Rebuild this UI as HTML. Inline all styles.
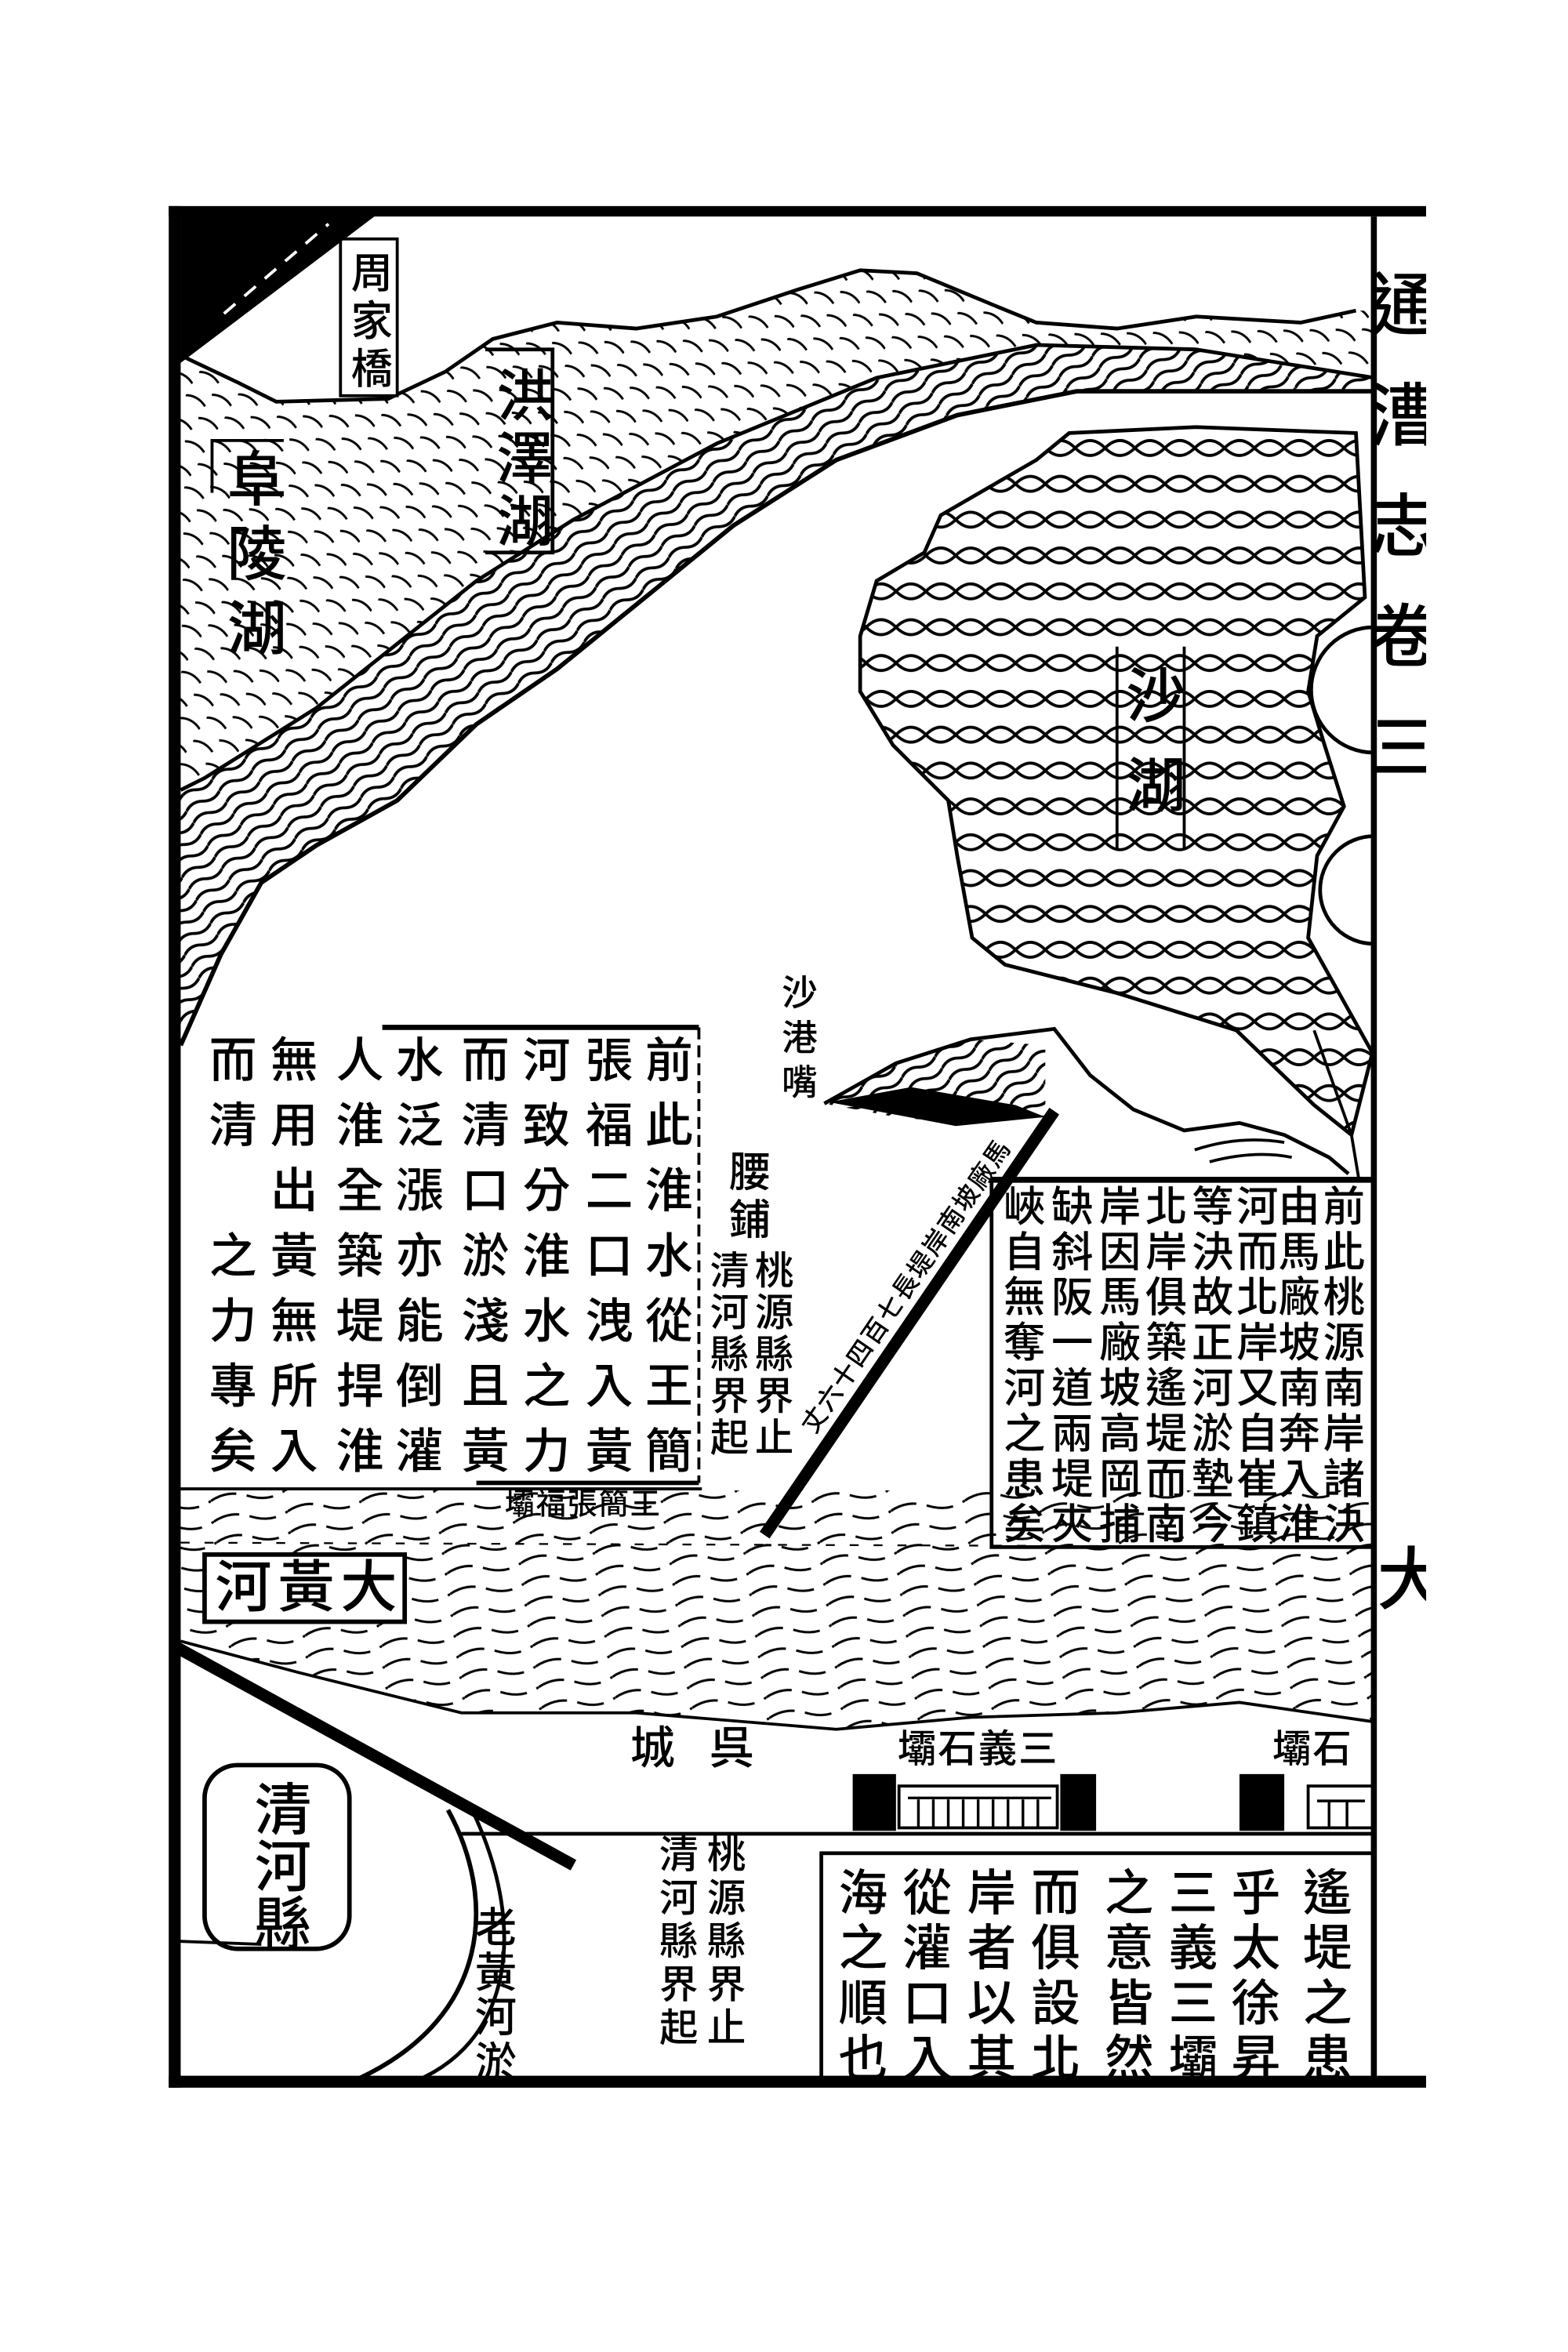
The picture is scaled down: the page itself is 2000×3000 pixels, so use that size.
<!DOCTYPE html>
<html><head><meta charset="utf-8">
<style>
html,body{margin:0;padding:0;background:#fff;width:2000px;height:3000px;overflow:hidden}
#c{position:absolute;left:0;top:0;width:1050px;height:1575px;transform:scale(1.9047619);transform-origin:0 0;background:#fff}
svg{position:absolute;left:0;top:0}
.v{position:absolute;writing-mode:vertical-rl;line-height:1;white-space:nowrap;font-family:"Liberation Sans","Noto Sans CJK TC",sans-serif;font-weight:500;color:#000}
.h{position:absolute;line-height:1;white-space:nowrap;font-family:"Liberation Sans","Noto Sans CJK TC",sans-serif;font-weight:500;color:#000}
</style></head><body>
<div id="c">
<svg width="1050" height="1575" viewBox="0 0 1050 1575">
<defs>
<pattern id="pMount" width="30" height="18" patternUnits="userSpaceOnUse" patternTransform="rotate(30)">
<path d="M0 5 q7 -4 15 0 M15 14 q7 -4 15 0" stroke="#000" stroke-width="1.5" fill="none"/>
</pattern>
<pattern id="pChan" width="26" height="9" patternUnits="userSpaceOnUse" patternTransform="rotate(-32)">
<path d="M0 5 q6.5 -4 13 0 t13 0" stroke="#000" stroke-width="2" fill="none"/>
</pattern>
<pattern id="pLake" width="40" height="24" patternUnits="userSpaceOnUse">
<path d="M0 12 Q10 2 20 12 T40 12 M0 12 Q10 22 20 12 T40 12" stroke="#000" stroke-width="2" fill="none"/>
</pattern>
<pattern id="pRiver" width="50" height="14" patternUnits="userSpaceOnUse" patternTransform="rotate(-8)">
<path d="M0 7 q12 -6 25 0 t25 0" stroke="#000" stroke-width="1.6" fill="none" stroke-dasharray="18 7"/>
</pattern>
</defs>

<polygon points="121,238 159,256 185,269 260,267 298,249 330,227 373,216 426,220 480,212 534,194 576,181 614,183 667,205 694,216 748,220 801,212 871,216 908,208 920,208 920,253 801,234 694,231 587,253 480,297 384,348 319,389 212,474 137,521 121,529" fill="url(#pMount)"/>
<polyline points="121,238 159,256 185,269 260,267 298,249 330,227 373,216 426,220 480,212 534,194 576,181 614,183 667,205 694,216 748,220 801,212 871,216 908,208" fill="none" stroke="#000" stroke-width="2.5"/>
<polygon points="121,529 137,521 212,474 319,389 384,348 480,297 587,253 694,231 801,234 920,253 920,262 800,262 721,262 641,278 560,308 491,352 437,396 373,448 319,485 266,536 212,566 175,591 148,639 121,700" fill="url(#pChan)"/>
<polyline points="121,529 137,521 212,474 319,389 384,348 480,297 587,253 694,231 801,234 920,253" fill="none" stroke="#000" stroke-width="2.5"/>
<polyline points="920,262 800,262 721,262 641,278 560,308 491,352 437,396 373,448 319,485 266,536 212,566 175,591 148,639 121,700" fill="none" stroke="#000" stroke-width="3"/>

<polygon points="716,290 801,286 908,290 914,400 882,426 876,463 887,499 900,540 882,573 876,628 919,705 905,760 880,740 828,690 748,665 673,646 651,628 641,573 635,536 598,499 576,463 576,426 587,389 619,370 630,345 694,308" fill="url(#pLake)" stroke="#000" stroke-width="2.5"/>
<path d="M920 420 A42 42 0 0 0 920 504 Z" fill="#fff" stroke="#000" stroke-width="2.5"/>
<path d="M920 560 A36 36 0 0 0 920 632 Z" fill="#fff" stroke="#000" stroke-width="2.5"/>
<polyline points="880,690 905,760 910,790" fill="none" stroke="#000" stroke-width="2"/>

<polygon points="552,739 600,712 650,696 700,700 700,748 640,752 600,748" fill="url(#pChan)"/>
<polyline points="552,739 600,712 650,696 706,689 730,720 759,743 793,757 830,752 860,760 890,775 903,786" fill="none" stroke="#000" stroke-width="2.5"/>
<path d="M555 738 L610 728 L680 740 L700 748 L640 754 Z" fill="#000"/>
<path d="M800 770 q30 -10 60 -5 M810 778 q30 -8 55 -3" stroke="#000" stroke-width="2" fill="none"/>

<line x1="706" y1="744" x2="512" y2="1028" stroke="#000" stroke-width="8"/>

<polygon points="121,998 920,998 920,1153 908,1153 830,1140 748,1147 650,1150 560,1158 426,1147 309,1147 200,1120 121,1099" fill="url(#pRiver)"/>
<polyline points="121,1099 200,1120 309,1147 426,1147 560,1158 650,1150 748,1147 830,1140 920,1153" fill="none" stroke="#000" stroke-width="2"/>
<line x1="121" y1="997" x2="470" y2="997" stroke="#000" stroke-width="2"/>
<line x1="121" y1="1033" x2="920" y2="1036" stroke="#000" stroke-width="1.2" stroke-dasharray="6 10"/>
<rect x="137" y="1041" width="134" height="45" fill="#fff" stroke="#000" stroke-width="3"/>

<line x1="118" y1="1103" x2="384" y2="1249" stroke="#000" stroke-width="8"/>
<line x1="309" y1="1228" x2="920" y2="1228" stroke="#000" stroke-width="2.5"/>
<rect x="571" y="1188" width="29" height="38" fill="#000"/>
<rect x="710" y="1188" width="24" height="38" fill="#000"/>
<rect x="830" y="1188" width="30" height="38" fill="#000"/>
<rect x="602" y="1196" width="106" height="28" fill="#fff" stroke="#000" stroke-width="2"/>
<path d="M615 1205 V1224 M625 1205 V1224 M635 1205 V1224 M645 1205 V1224 M655 1205 V1224 M665 1205 V1224 M675 1205 V1224 M685 1205 V1224 M695 1205 V1224 M608 1204 H704" stroke="#000" stroke-width="1.8"/>
<rect x="876" y="1196" width="44" height="28" fill="#fff" stroke="#000" stroke-width="2"/>
<path d="M882 1206 H914 M890 1206 V1224 M902 1206 V1224" stroke="#000" stroke-width="1.8"/>

<rect x="137" y="1182" width="97" height="123" rx="22" fill="#fff" stroke="#000" stroke-width="3"/>
<path d="M300 1212 C332 1270 330 1350 240 1392" fill="none" stroke="#000" stroke-width="3"/>
<path d="M318 1216 C352 1290 345 1370 272 1396" fill="none" stroke="#000" stroke-width="2.5"/>
<line x1="121" y1="1300" x2="175" y2="1302" stroke="#000" stroke-width="2"/>

<rect x="664" y="790" width="256" height="246" fill="none" stroke="#000" stroke-width="2.5"/>
<line x1="664" y1="790" x2="920" y2="790" stroke="#000" stroke-width="4"/>
<rect x="550" y="1241" width="370" height="151" fill="none" stroke="#000" stroke-width="2.5"/>
<line x1="256" y1="688" x2="468" y2="688" stroke="#000" stroke-width="3.5"/>
<line x1="468" y1="688" x2="468" y2="993" stroke="#000" stroke-width="2" stroke-dasharray="8 4"/>
<line x1="319" y1="993" x2="468" y2="993" stroke="#000" stroke-width="3"/>
<rect x="228" y="160" width="38" height="105" fill="#fff" stroke="#000" stroke-width="2"/>
<path d="M325 234 H370 V370 H325" fill="none" stroke="#000" stroke-width="2.5"/>
<path d="M142 330 V295 H190" fill="none" stroke="#000" stroke-width="2"/>
<path d="M748 433 V569 M793 433 V569" fill="none" stroke="#000" stroke-width="2"/>

<polygon points="121,144 252,144 121,243" fill="#000"/>
<line x1="150" y1="210" x2="220" y2="150" stroke="#fff" stroke-width="2" stroke-dasharray="10 8"/>

<rect x="113" y="138" width="8" height="1260" fill="#000"/>
<rect x="113" y="138" width="842" height="7" fill="#000"/>
<rect x="113" y="1390" width="842" height="8" fill="#000"/>
<rect x="918" y="145" width="4" height="1247" fill="#000"/>
</svg>

<div class="v" style="left:233px;top:168px;font-size:28px;letter-spacing:4px">周家橋</div>
<div class="v" style="left:328px;top:245px;font-size:38px;letter-spacing:4px">洪澤湖</div>
<div class="v" style="left:148px;top:300px;font-size:40px;letter-spacing:10px">阜陵湖</div>
<div class="v" style="left:750px;top:445px;font-size:40px;letter-spacing:20px">沙湖</div>
<div class="v" style="left:520px;top:652px;font-size:24px;letter-spacing:6px">沙港嘴</div>

<div class="h" style="left:487px;top:853px;font-size:17px;letter-spacing:1px;transform:rotate(-55.6deg);transform-origin:50% 50%;width:240px;text-align:center">丈六十四百七長堤岸南坡廠馬</div>

<div class="v" style="left:430px;top:693px;font-size:32px;letter-spacing:11.6px">前此淮水從王簡</div>
<div class="v" style="left:390px;top:693px;font-size:32px;letter-spacing:11.6px">張福二口洩入黃</div>
<div class="v" style="left:348px;top:693px;font-size:32px;letter-spacing:11.6px">河致分淮水之力</div>
<div class="v" style="left:307px;top:693px;font-size:32px;letter-spacing:11.6px">而清口淤淺且黃</div>
<div class="v" style="left:263px;top:693px;font-size:32px;letter-spacing:11.6px">水泛漲亦能倒灌</div>
<div class="v" style="left:223px;top:693px;font-size:32px;letter-spacing:11.6px">人淮全築堤捍淮</div>
<div class="v" style="left:179px;top:693px;font-size:32px;letter-spacing:11.6px">無用出黃無所入</div>
<div class="v" style="left:138px;top:693px;font-size:32px;letter-spacing:11.6px">而清　之力專矣</div>
<div class="h" style="left:338px;top:998px;font-size:20px;letter-spacing:1px">壩福張簡王</div>

<div class="v" style="left:486px;top:770px;font-size:28px;letter-spacing:4px">腰鋪</div>
<div class="v" style="left:504px;top:837px;font-size:26px;letter-spacing:2px">桃源縣界止</div>
<div class="v" style="left:474px;top:837px;font-size:26px;letter-spacing:2px">清河縣界起</div>

<div class="v" style="left:884px;top:793px;font-size:28px;letter-spacing:2.4px">前此桃源南岸諸決</div>
<div class="v" style="left:854px;top:793px;font-size:28px;letter-spacing:2.4px">由馬廠坡南奔入淮</div>
<div class="v" style="left:826px;top:793px;font-size:28px;letter-spacing:2.4px">河而北岸又自崔鎮</div>
<div class="v" style="left:796px;top:793px;font-size:28px;letter-spacing:2.4px">等決故正河淤墊今</div>
<div class="v" style="left:765px;top:793px;font-size:28px;letter-spacing:2.4px">北岸俱築遙堤而南</div>
<div class="v" style="left:734px;top:793px;font-size:28px;letter-spacing:2.4px">岸因馬廠坡高岡捕</div>
<div class="v" style="left:702px;top:793px;font-size:28px;letter-spacing:2.4px">缺斜阪一道兩堤夾</div>
<div class="v" style="left:670px;top:793px;font-size:28px;letter-spacing:2.4px">峽自無奪河之患矣</div>

<div class="h" style="left:144px;top:1045px;font-size:38px;letter-spacing:4px">河黃大</div>
<div class="h" style="left:422px;top:1157px;font-size:30px;letter-spacing:23px">城呉</div>
<div class="h" style="left:601px;top:1158px;font-size:26px;letter-spacing:1px">壩石義三</div>
<div class="h" style="left:852px;top:1158px;font-size:26px;letter-spacing:1px">壩石</div>
<div class="v" style="left:166px;top:1192px;font-size:38px;letter-spacing:0px">清河縣</div>
<div class="v" style="left:316px;top:1276px;font-size:28px;letter-spacing:2px">老黃河淤</div>
<div class="v" style="left:472px;top:1228px;font-size:26px;letter-spacing:3px">桃源縣界止</div>
<div class="v" style="left:440px;top:1228px;font-size:26px;letter-spacing:3px">清河縣界起</div>

<div class="v" style="left:870px;top:1250px;font-size:33px;letter-spacing:4px">遙堤之患</div>
<div class="v" style="left:822px;top:1250px;font-size:33px;letter-spacing:4px">乎太徐昇</div>
<div class="v" style="left:780px;top:1250px;font-size:33px;letter-spacing:4px">三義三壩</div>
<div class="v" style="left:737px;top:1250px;font-size:33px;letter-spacing:4px">之意皆然</div>
<div class="v" style="left:688px;top:1250px;font-size:33px;letter-spacing:4px">而俱設北</div>
<div class="v" style="left:645px;top:1250px;font-size:33px;letter-spacing:4px">岸者以其</div>
<div class="v" style="left:602px;top:1250px;font-size:33px;letter-spacing:4px">從灌口入</div>
<div class="v" style="left:559px;top:1250px;font-size:33px;letter-spacing:4px">海之順也</div>

<div class="v" style="left:914px;top:180px;font-size:46px;letter-spacing:28px">通漕志卷三</div>
<div class="h" style="left:922px;top:1035px;font-size:46px">大</div>
<div style="position:absolute;left:955px;top:0;width:95px;height:1575px;background:#fff"></div>
</div>
</body></html>
